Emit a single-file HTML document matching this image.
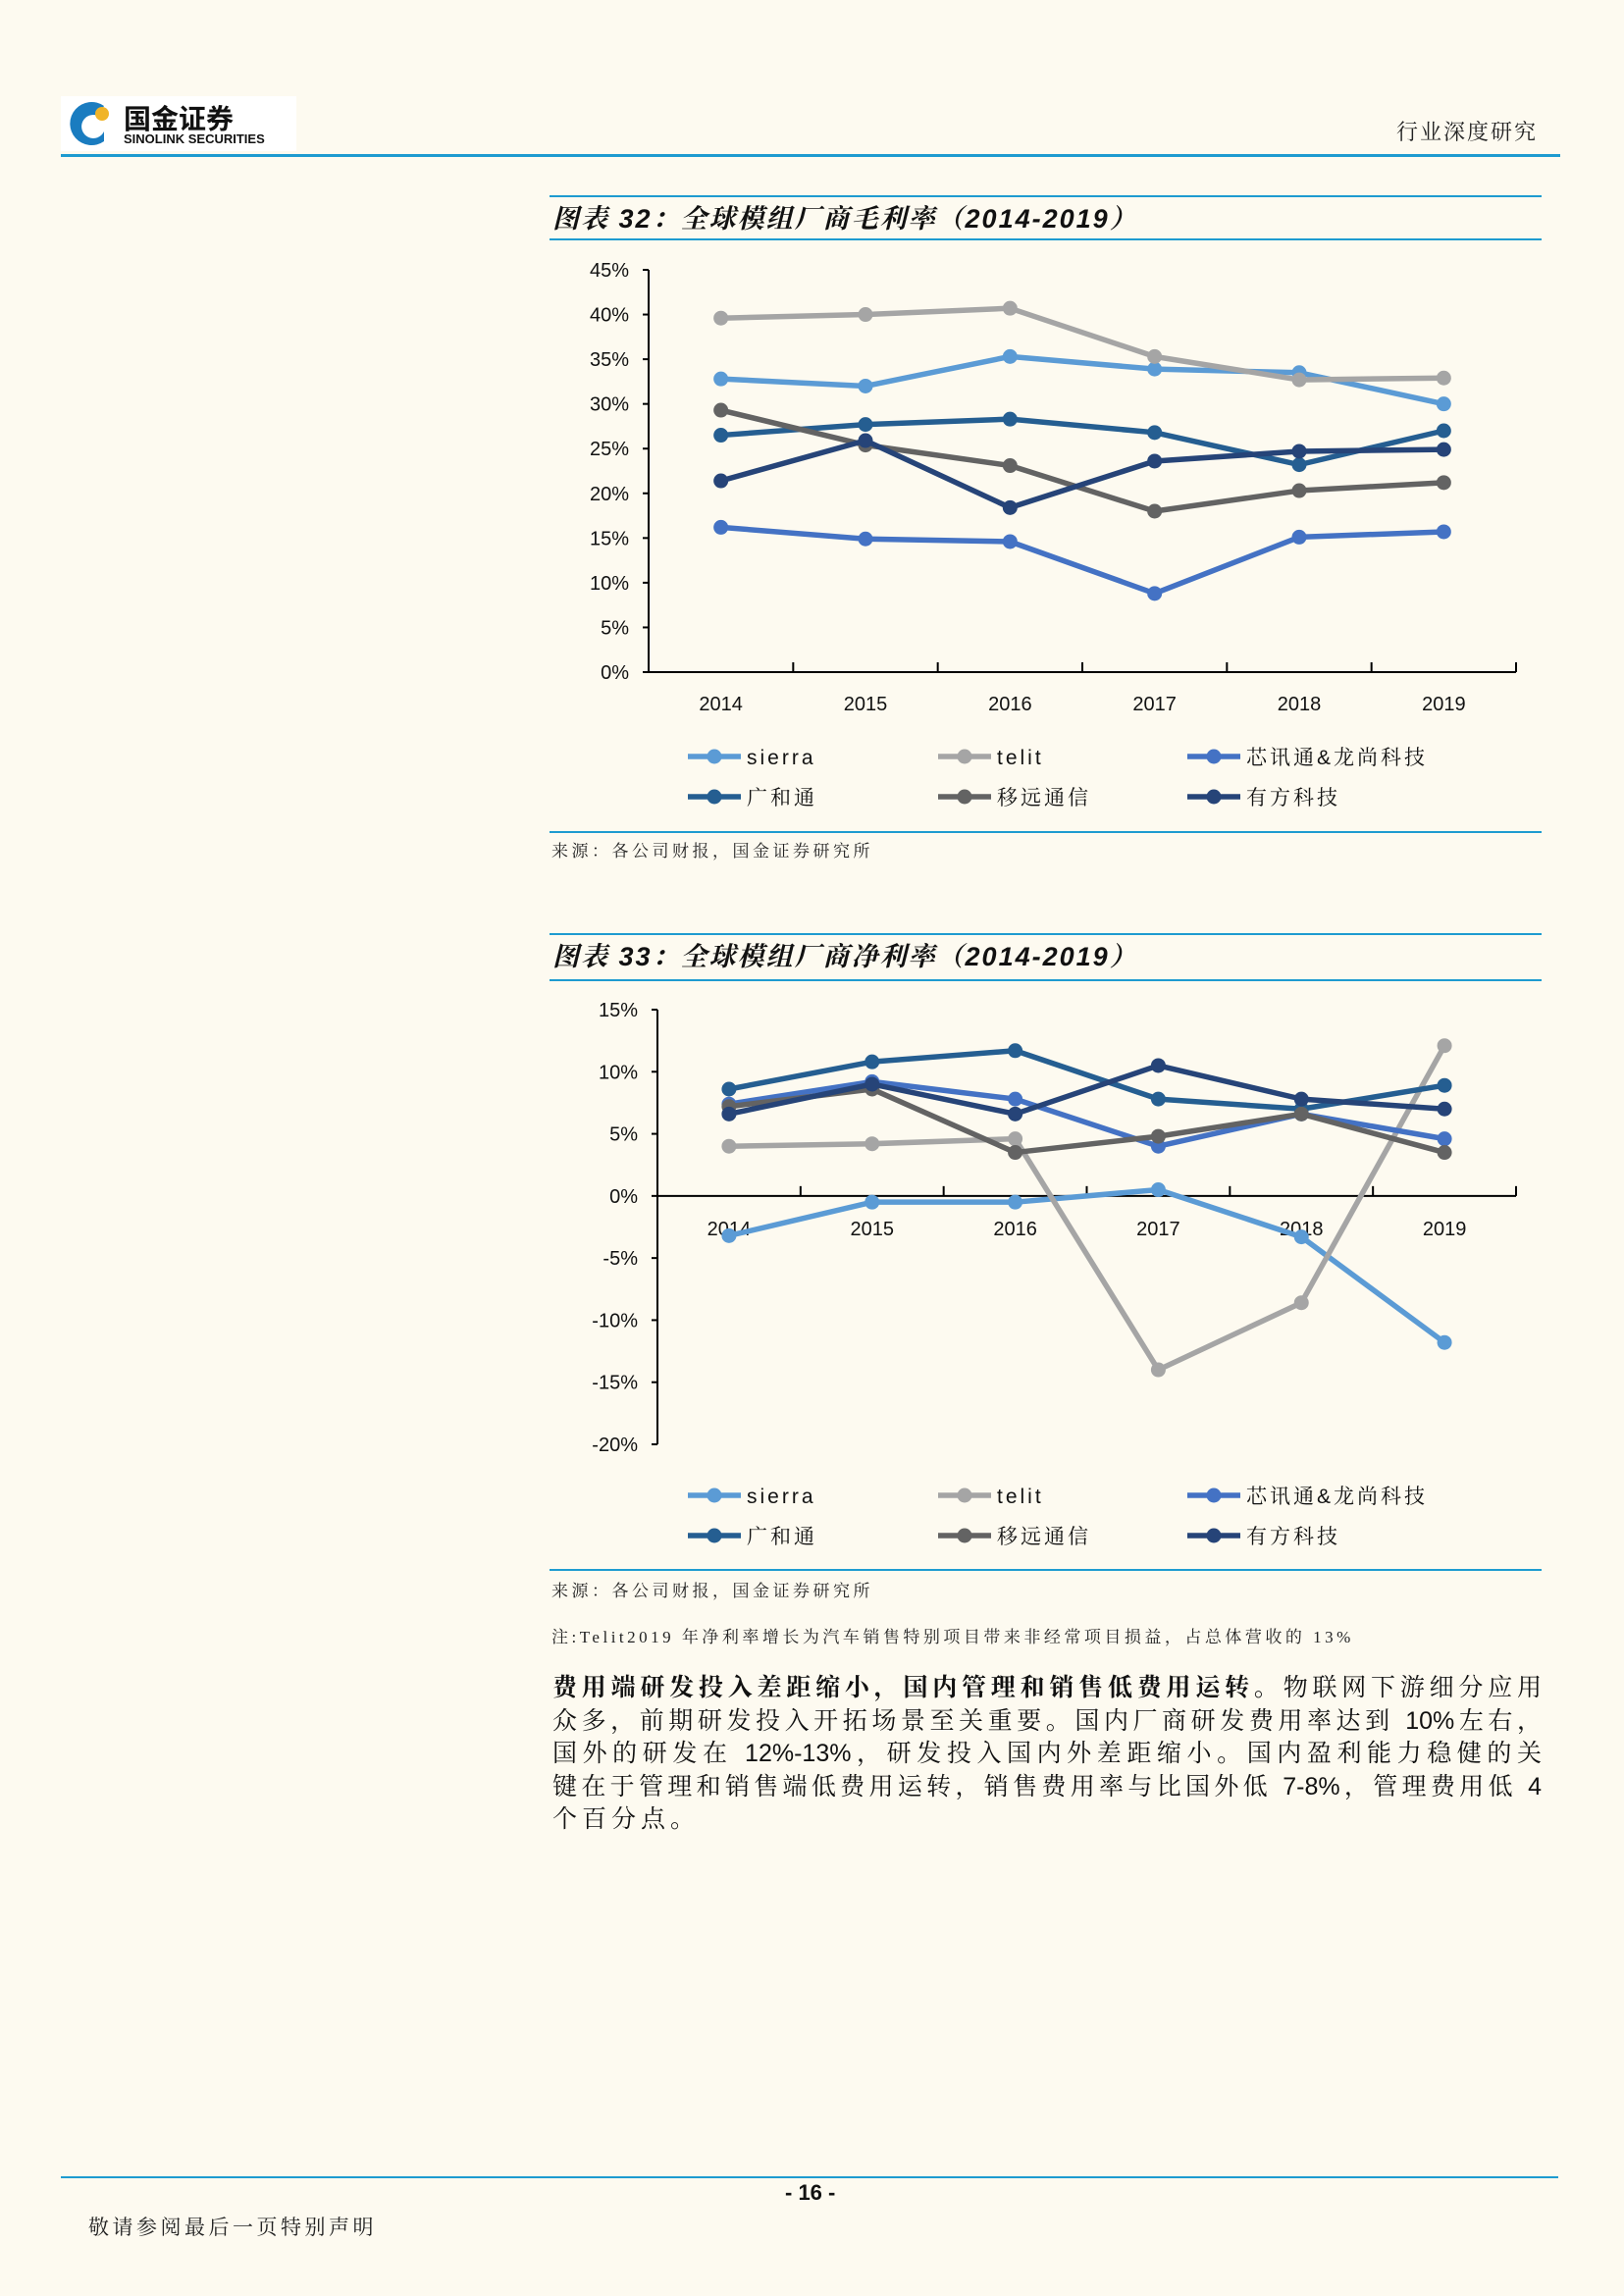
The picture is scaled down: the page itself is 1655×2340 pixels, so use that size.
<!DOCTYPE html>
<html><head><meta charset="utf-8">
<style>
body{margin:0;background:#fdfaf0;}
#page{position:relative;width:1655px;height:2340px;overflow:hidden;background:#fdfaf0;font-family:"Liberation Sans","Noto Sans CJK SC",sans-serif;}
.abs{position:absolute;white-space:nowrap;}
.hr{position:absolute;height:3px;background:#1e9bd0;}
.title{font-size:27px;font-weight:bold;font-style:italic;color:#111;letter-spacing:2px;font-family:"Liberation Sans","Noto Serif CJK SC",serif;}
.src{font-size:17px;color:#222;letter-spacing:3.5px;font-family:"Liberation Serif","Noto Serif CJK SC",serif;}
.para{font-size:25px;color:#111;line-height:33.5px;font-family:"Liberation Sans","Noto Serif CJK SC",serif;}
.pl{width:1008px;text-align:justify;text-align-last:justify;white-space:nowrap;}
</style></head>
<body>
<div id="page">
  <div class="abs" style="left:62px;top:98px;width:240px;height:56px;background:#fff;">
    <svg width="60" height="56"><path d="M44 10 A22 22 0 1 0 44 46 L44 36 A12 12 0 1 1 38 20 Z" fill="#1a7cc0"/><circle cx="42" cy="18" r="7" fill="#f0b428"/></svg>
    <div class="abs" style="left:64px;top:2px;font-size:28px;font-weight:bold;color:#111;font-family:'Noto Sans CJK SC',sans-serif;">国金证券</div>
    <div class="abs" style="left:64px;top:36px;font-size:13px;font-weight:bold;color:#111;">SINOLINK SECURITIES</div>
  </div>
  <div class="abs" style="left:1423px;top:118px;font-size:22px;letter-spacing:2px;color:#222;font-family:'Noto Serif CJK SC',serif;">行业深度研究</div>
  <div class="hr" style="left:62px;top:157px;width:1528px;"></div>

  <div class="hr" style="left:560px;top:199px;width:1011px;height:2px;"></div>
  <div class="abs title" style="left:563px;top:201px;">图表 32：全球模组厂商毛利率（2014-2019）</div>
  <div class="hr" style="left:560px;top:243px;width:1011px;height:2px;"></div>
  <svg id="c1" class="abs" style="left:0;top:0;" width="1655" height="900"></svg>
  <div class="hr" style="left:560px;top:847px;width:1011px;height:2px;"></div>
  <div class="abs src" style="left:562px;top:853px;">来源：各公司财报，国金证券研究所</div>

  <div class="hr" style="left:560px;top:951px;width:1011px;height:2px;"></div>
  <div class="abs title" style="left:563px;top:953px;">图表 33：全球模组厂商净利率（2014-2019）</div>
  <div class="hr" style="left:560px;top:998px;width:1011px;height:2px;"></div>
  <svg id="c2" class="abs" style="left:0;top:0;" width="1655" height="1600"></svg>
  <div class="hr" style="left:560px;top:1599px;width:1011px;height:2px;"></div>
  <div class="abs src" style="left:562px;top:1607px;">来源：各公司财报，国金证券研究所</div>
  <div class="abs src" style="left:562px;top:1654px;">注:Telit2019 年净利率增长为汽车销售特别项目带来非经常项目损益，占总体营收的 13%</div>

  <div class="abs para" style="left:563px;top:1704px;">
    <div class="pl"><b>费用端研发投入差距缩小，国内管理和销售低费用运转。</b>物联网下游细分应用</div>
    <div class="pl">众多，前期研发投入开拓场景至关重要。国内厂商研发费用率达到 10%左右，</div>
    <div class="pl">国外的研发在 12%-13%，研发投入国内外差距缩小。国内盈利能力稳健的关</div>
    <div class="pl">键在于管理和销售端低费用运转，销售费用率与比国外低 7-8%，管理费用低 4</div>
    <div style="letter-spacing:5px;">个百分点。</div>
  </div>

  <div class="hr" style="left:62px;top:2218px;width:1526px;height:2px;"></div>
  <div class="abs" style="left:800px;top:2222px;font-size:22px;font-weight:bold;color:#111;">- 16 -</div>
  <div class="abs" style="left:90px;top:2254px;font-size:21px;letter-spacing:3.5px;color:#222;font-family:'Noto Serif CJK SC',serif;">敬请参阅最后一页特别声明</div>
</div>
<script>
const categories=['2014','2015','2016','2017','2018','2019'];
const seriesNames=['sierra','telit','芯讯通&龙尚科技','广和通','移远通信','有方科技'];
const seriesColors=['#5b9bd5','#a5a5a5','#4472c4','#255e91','#636363','#264478'];
const grossSierra=[32.8,32.0,35.3,33.9,33.5,30.0];
const grossTelit=[39.6,40.0,40.7,35.3,32.7,32.9];
const grossXunxin=[16.2,14.9,14.6,8.8,15.1,15.7];
const grossGuanghetong=[26.5,27.7,28.3,26.8,23.2,27.0];
const grossYiyuan=[29.3,25.4,23.1,18.0,20.3,21.2];
const grossYoufang=[21.4,25.9,18.4,23.6,24.7,24.9];
const grossTicks=[0,5,10,15,20,25,30,35,40,45];
const netSierra=[-3.2,-0.5,-0.5,0.5,-3.3,-11.8];
const netTelit=[4.0,4.2,4.6,-14.0,-8.6,12.1];
const netXunxin=[7.4,9.2,7.8,4.0,6.6,4.6];
const netGuanghetong=[8.6,10.8,11.7,7.8,7.0,8.9];
const netYiyuan=[7.2,8.6,3.5,4.8,6.6,3.5];
const netYoufang=[6.6,9.0,6.6,10.5,7.8,7.0];
const netTicks=[-20,-15,-10,-5,0,5,10,15];

const NS='http://www.w3.org/2000/svg';
function mk(svg,tag,attrs){const e=document.createElementNS(NS,tag);for(const k in attrs)e.setAttribute(k,attrs[k]);svg.appendChild(e);return e;}

function drawChart(svg,cfg,series,ticks,prefix){
  const x0=cfg.axisX,x1=cfg.right,n=categories.length,step=(x1-x0)/n;
  const xs=i=>x0+step*(i+0.5);
  const ys=v=>cfg.bottom-(v-cfg.min)/(cfg.max-cfg.min)*(cfg.bottom-cfg.top);
  let a=mk(svg,'line',{x1:x0,y1:ys(cfg.max),x2:x0,y2:ys(cfg.min),stroke:'#000','stroke-width':2});
  
  ticks.forEach(t=>{
    mk(svg,'line',{x1:x0-6,y1:ys(t),x2:x0,y2:ys(t),stroke:'#000','stroke-width':2});
    const tx=mk(svg,'text',{x:x0-20,y:ys(t)+7,'text-anchor':'end','font-size':20,'font-family':'Liberation Sans, sans-serif',fill:'#111'});
    tx.textContent=t+'%';
    
    
  });
  const yz=ys(cfg.xAxisAt);
  const xa=mk(svg,'line',{x1:x0,y1:yz,x2:x1,y2:yz,stroke:'#000','stroke-width':2});
  
  for(let i=1;i<=n;i++)mk(svg,'line',{x1:x0+step*i,y1:yz,x2:x0+step*i,y2:yz-10,stroke:'#000','stroke-width':2});
  categories.forEach((c,i)=>{
    const t=mk(svg,'text',{x:xs(i),y:cfg.labelY,'text-anchor':'middle','font-size':20,'font-family':'Liberation Sans, sans-serif',fill:'#111'});
    t.textContent=c;
    
    
  });
  series.forEach((vals,s)=>{
    const g=mk(svg,'g',{});
    
    
    mk(g,'polyline',{points:vals.map((v,i)=>xs(i)+','+ys(v)).join(' '),fill:'none',stroke:seriesColors[s],'stroke-width':5.5,'stroke-linejoin':'round'});
    vals.forEach((v,i)=>{
      const p=mk(g,'circle',{cx:xs(i),cy:ys(v),r:7.5,fill:seriesColors[s]});
      
      
    });
  });
  const lx=[701,956,1210],ly=[cfg.legendY,cfg.legendY+41];
  seriesNames.forEach((nm,s)=>{
    const x=lx[s%3],y=ly[Math.floor(s/3)];
    const g=mk(svg,'g',{});
    
    
    mk(g,'line',{x1:x,y1:y,x2:x+54,y2:y,stroke:seriesColors[s],'stroke-width':5.5});
    mk(g,'circle',{cx:x+27,cy:y,r:7.5,fill:seriesColors[s]});
    const t=mk(g,'text',{x:x+60,y:y+8,'font-size':21,'letter-spacing':3,'font-family':'Liberation Sans, Noto Serif CJK SC, sans-serif',fill:'#111'});
    t.textContent=nm;
  });
}
drawChart(document.getElementById('c1'),{axisX:661,right:1545,top:275,bottom:685,min:0,max:45,xAxisAt:0,labelY:724,legendY:771},
  [grossSierra,grossTelit,grossXunxin,grossGuanghetong,grossYiyuan,grossYoufang],grossTicks,'gross');
drawChart(document.getElementById('c2'),{axisX:670,right:1545,top:1029,bottom:1472,min:-20,max:15,xAxisAt:0,labelY:1259,legendY:1524},
  [netSierra,netTelit,netXunxin,netGuanghetong,netYiyuan,netYoufang],netTicks,'net');
</script>
</body></html>
